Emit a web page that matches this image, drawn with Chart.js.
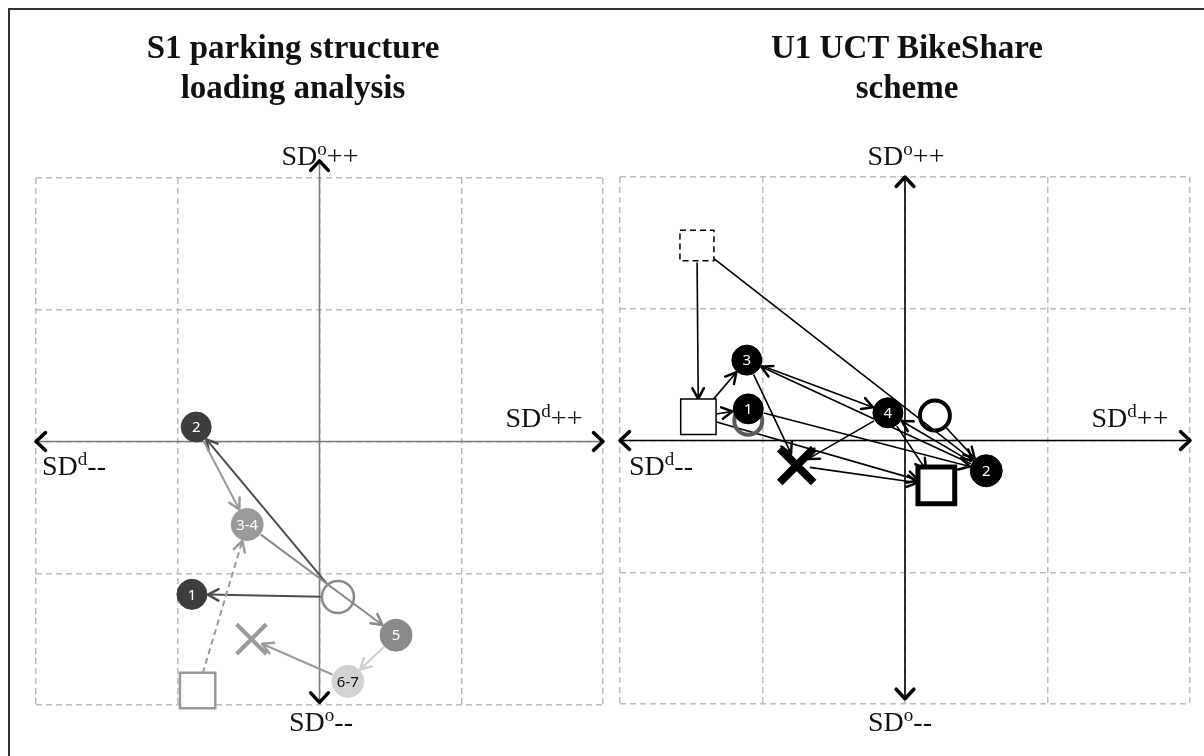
<!DOCTYPE html>
<html>
<head>
<meta charset="utf-8">
<script src="https://cdn.jsdelivr.net/npm/chart.js@4.4.0/dist/chart.umd.min.js"></script>
<style>
  body { margin: 0; background: #fff; width: 1204px; height: 756px; overflow: hidden; position: relative; font-family: "Liberation Serif", serif; }
  .frame { position: absolute; left: 8px; top: 8px; width: 1210px; height: 770px; border-left: 2px solid #333; border-top: 2px solid #333; }
  canvas { position: absolute; top: 0; }
  #left { left: 0; }
  #right { left: 612px; }
  .t { position: absolute; width: 560px; text-align: center; font-weight: bold; font-size: 33px; line-height: 40px; top: 27px; color: #111; }
  .lab { position: absolute; font-size: 28px; white-space: nowrap; transform: translate(-50%, -50%); color: #111; }
  .lab .s { font-size: 68%; position: relative; top: -0.55em; }
</style>
</head>
<body>
<div class="frame"></div>
<canvas id="left" width="612" height="756"></canvas>
<canvas id="right" width="592" height="756"></canvas>

<div class="t" style="left:13px">S1 parking structure<br>loading analysis</div>
<div class="t" style="left:627px">U1 UCT BikeShare<br>scheme</div>

<div class="lab" style="left:320px;top:156px">SD<span class="s">o</span>++</div>
<div class="lab" style="left:544px;top:418px">SD<span class="s">d</span>++</div>
<div class="lab" style="left:74px;top:466px">SD<span class="s">d</span>--</div>
<div class="lab" style="left:321px;top:722px">SD<span class="s">o</span>--</div>

<div class="lab" style="left:906px;top:156px">SD<span class="s">o</span>++</div>
<div class="lab" style="left:1130px;top:418px">SD<span class="s">d</span>++</div>
<div class="lab" style="left:661px;top:466px">SD<span class="s">d</span>--</div>
<div class="lab" style="left:900px;top:722px">SD<span class="s">o</span>--</div>

<script>
// S1 parking structure loading analysis
const leftNames = ['1', '2', '3-4', '5', '6-7', 'circle', 'square', 'cross'];
const leftX = [-0.90, -0.87, -0.51, 0.54, 0.20, 0.13, -0.86, -0.48];
const leftY = [-1.16, 0.11, -0.63, -1.47, -1.82, -1.18, -1.89, -1.50];
const leftFrom = ['circle', 'circle', '2', 'square', '3-4', '5', '6-7'];
const leftTo = ['2', '1', '3-4', '3-4', '5', '6-7', 'cross'];

// U1 UCT BikeShare scheme
const rightNames = ['1', '2', '3', '4', 'dashSquare', 'square', 'bigSquare', 'circle', 'ring', 'cross'];
const rightX = [-1.10, 0.57, -1.11, -0.12, -1.46, -1.45, 0.22, 0.21, -1.10, -0.76];
const rightY = [0.24, -0.23, 0.61, 0.21, 1.48, 0.18, -0.34, 0.19, 0.15, -0.19];
const rightFrom = ['dashSquare', 'dashSquare', 'square', 'square', '3', '3', '4', '2', '1', 'circle', 'cross', '4', '2', 'square'];
const rightTo = ['square', '2', '3', '1', '4', 'cross', 'cross', '3', '2', '2', 'bigSquare', 'bigSquare', '4', 'bigSquare'];

const gridTicks = [-2, -1, 0, 1, 2];

// looks of the marks, by name
const leftLook = {
  '1': { kind: 'dot', r: 15, fill: '#3d3d3d', text: '#fff' },
  '2': { kind: 'dot', r: 15, fill: '#3d3d3d', text: '#fff' },
  '3-4': { kind: 'dot', r: 16, fill: '#9a9a9a', text: '#fff' },
  '5': { kind: 'dot', r: 16, fill: '#8a8a8a', text: '#fff' },
  '6-7': { kind: 'dot', r: 16, fill: '#d2d2d2', text: '#111' },
  'circle': { kind: 'ring', r: 16, line: '#8a8a8a', w: 2.5 },
  'square': { kind: 'rect', r: 25, line: '#9a9a9a', w: 2.5 },
  'cross': { kind: 'cross', r: 21, line: '#9a9a9a', w: 4 }
};
const rightLook = {
  '1': { kind: 'dot', r: 15, fill: '#000', text: '#fff' },
  '2': { kind: 'dot', r: 16, fill: '#000', text: '#fff' },
  '3': { kind: 'dot', r: 15, fill: '#000', text: '#fff' },
  '4': { kind: 'dot', r: 15, fill: '#000', text: '#fff' },
  'dashSquare': { kind: 'dash', r: 17, line: '#000', w: 1.5 },
  'square': { kind: 'rect', r: 25, line: '#000', w: 1.5 },
  'bigSquare': { kind: 'rect', r: 26, line: '#000', w: 5 },
  'circle': { kind: 'ring', r: 15, line: '#000', w: 4 },
  'ring': { kind: 'ring', r: 14, line: '#5a5a5a', w: 4 },
  'cross': { kind: 'cross', r: 24, line: '#000', w: 8 }
};
const leftArrowColor = ['#4d4d4d', '#4d4d4d', '#9a9a9a', '#9a9a9a', '#8a8a8a', '#cfcfcf', '#9a9a9a'];
const leftArrowDash = [[], [], [], [6, 4], [], [], []];

function arrow(ctx, x1, y1, x2, y2, st) {
  const a = Math.atan2(y2 - y1, x2 - x1);
  ctx.save();
  ctx.strokeStyle = st.color;
  ctx.lineWidth = st.width;
  ctx.setLineDash(st.dash || []);
  ctx.beginPath();
  ctx.moveTo(x1, y1);
  ctx.lineTo(x2, y2);
  ctx.stroke();
  ctx.setLineDash([]);
  ctx.strokeStyle = st.headColor || st.color;
  ctx.lineWidth = st.headWidth;
  ctx.lineCap = 'round';
  ctx.lineJoin = 'round';
  const L = st.head, sp = st.spread;
  ctx.beginPath();
  ctx.moveTo(x2 - L * Math.cos(a - sp), y2 - L * Math.sin(a - sp));
  ctx.lineTo(x2, y2);
  ctx.lineTo(x2 - L * Math.cos(a + sp), y2 - L * Math.sin(a + sp));
  ctx.stroke();
  ctx.restore();
}

function trimOf(look) {
  if (look.kind === 'rect') return look.r * 0.72;
  if (look.kind === 'dash') return look.r;
  if (look.kind === 'cross') return look.r * 0.55;
  return look.r + 1;
}

function makePanel(id, names, xs, ys, from, to, look, arrowLook, axis, pad) {
  const kinds = ['dot', 'ring', 'rect', 'cross'];
  const datasets = kinds.map(k => {
    const idx = names.map((n, i) => i).filter(i => look[names[i]].kind === k);
    return {
      data: idx.map(i => ({ x: xs[i], y: ys[i] })),
      pointStyle: k === 'dot' || k === 'ring' ? 'circle' : (k === 'rect' ? 'rect' : 'crossRot'),
      pointRadius: idx.map(i => look[names[i]].r),
      backgroundColor: idx.map(i => k === 'dot' ? look[names[i]].fill : (k === 'rect' ? '#fff' : 'rgba(0,0,0,0)')),
      borderColor: idx.map(i => k === 'dot' ? look[names[i]].fill : look[names[i]].line),
      pointBorderWidth: idx.map(i => k === 'dot' ? 1 : look[names[i]].w),
      showLine: false,
      clip: false
    };
  });

  const marks = {
    id: 'marks',
    beforeDatasetsDraw(chart) {
      const ctx = chart.ctx, sx = chart.scales.x, sy = chart.scales.y;
      const px = i => sx.getPixelForValue(xs[i]);
      const py = i => sy.getPixelForValue(ys[i]);
      // axes with open arrowheads
      const axisSt = { color: axis.color, width: axis.width, headColor: '#000', headWidth: axis.headWidth, head: 13, spread: 0.75 };
      const y0 = sy.getPixelForValue(0), x0 = sx.getPixelForValue(0);
      const xl = sx.getPixelForValue(-2), xr = sx.getPixelForValue(2);
      const yt = sy.getPixelForValue(axis.top), yb = sy.getPixelForValue(axis.bottom);
      arrow(ctx, x0, y0, xr, y0, axisSt);
      arrow(ctx, x0, y0, xl, y0, axisSt);
      arrow(ctx, x0, y0, x0, yt, axisSt);
      arrow(ctx, x0, y0, x0, yb, axisSt);
      // transitions
      from.forEach((f, k) => {
        const a = names.indexOf(f), b = names.indexOf(to[k]);
        const x1 = px(a), y1 = py(a), x2 = px(b), y2 = py(b);
        const d = Math.hypot(x2 - x1, y2 - y1);
        const ua = trimOf(look[f]) / d, ub = trimOf(look[to[k]]) / d;
        const st = arrowLook(k);
        arrow(ctx, x1 + (x2 - x1) * ua, y1 + (y2 - y1) * ua, x2 - (x2 - x1) * ub, y2 - (y2 - y1) * ub, st);
      });
    },
    afterDatasetsDraw(chart) {
      const ctx = chart.ctx, sx = chart.scales.x, sy = chart.scales.y;
      names.forEach((n, i) => {
        const lk = look[n];
        const x = sx.getPixelForValue(xs[i]), y = sy.getPixelForValue(ys[i]);
        if (lk.kind === 'dash') {
          ctx.save();
          ctx.fillStyle = '#fff';
          ctx.strokeStyle = lk.line;
          ctx.lineWidth = lk.w;
          ctx.setLineDash([6, 4]);
          ctx.fillRect(x - lk.r, y - lk.r * 0.9, lk.r * 2, lk.r * 1.8);
          ctx.strokeRect(x - lk.r, y - lk.r * 0.9, lk.r * 2, lk.r * 1.8);
          ctx.restore();
        }
        if (lk.kind === 'dot') {
          ctx.save();
          ctx.fillStyle = lk.text;
          ctx.font = '15px "Noto Sans", sans-serif';
          ctx.textAlign = 'center';
          ctx.textBaseline = 'middle';
          ctx.fillText(n, x, y + 1);
          ctx.restore();
        }
      });
    }
  };

  const scaleOpts = {
    type: 'linear', min: -2, max: 2,
    afterBuildTicks: s => { s.ticks = gridTicks.map(v => ({ value: v })); },
    ticks: { display: false },
    grid: { color: '#bdbdbd', lineWidth: 1.5, drawTicks: false },
    border: { display: false, dash: [6, 4] }
  };

  return new Chart(document.getElementById(id), {
    type: 'scatter',
    data: { datasets },
    options: {
      responsive: false,
      animation: false,
      events: [],
      layout: { padding: pad, autoPadding: false },
      plugins: { legend: { display: false }, tooltip: { enabled: false } },
      scales: { x: scaleOpts, y: Object.assign({}, scaleOpts) }
    },
    plugins: [marks]
  });
}

makePanel('left', leftNames, leftX, leftY, leftFrom, leftTo, leftLook,
  k => ({ color: leftArrowColor[k], width: 2, dash: leftArrowDash[k], headWidth: 2.5, head: 12, spread: 0.5 }),
  { color: '#7a7a7a', width: 1.5, headWidth: 3.5, top: 2.13, bottom: -1.98 },
  { left: 36, right: 9, top: 178, bottom: 51 });

makePanel('right', rightNames, rightX, rightY, rightFrom, rightTo, rightLook,
  k => ({ color: '#000', width: 1.6, headWidth: 2.5, head: 12, spread: 0.5 }),
  { color: '#000', width: 1.6, headWidth: 3.5, top: 2, bottom: -1.96 },
  { left: 8, right: 14, top: 177, bottom: 52 });
</script>
</body>
</html>
